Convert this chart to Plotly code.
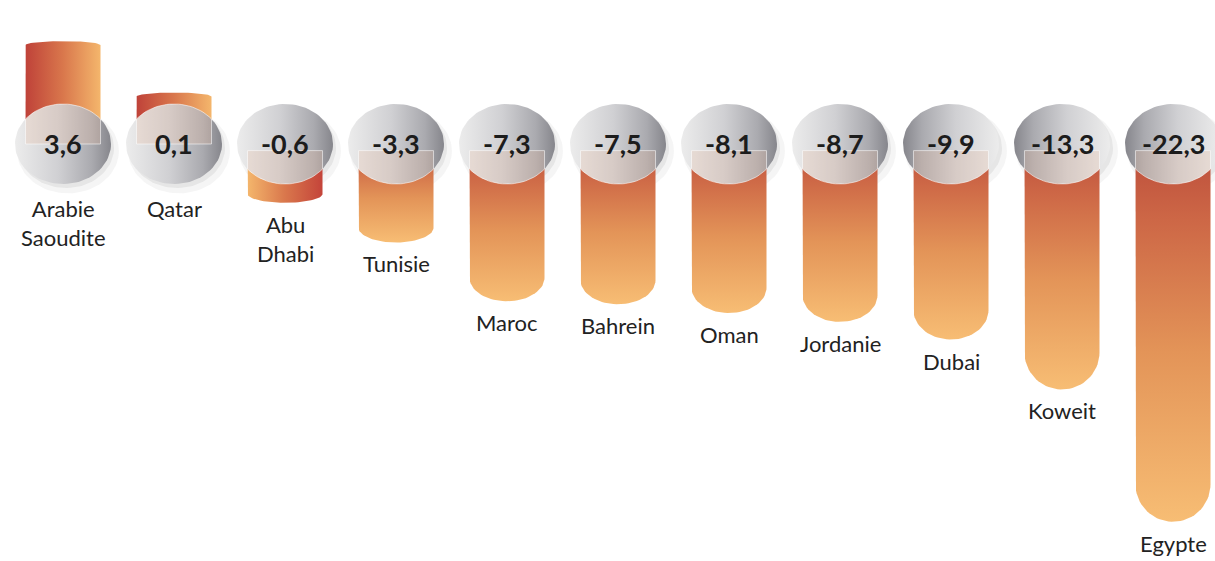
import numpy as np
import plotly.graph_objects as go

# ---------------- data ----------------
countries = ["Arabie<br>Saoudite", "Qatar", "Abu<br>Dhabi", "Tunisie", "Maroc", "Bahrein",
             "Oman", "Jordanie", "Dubai", "Koweit", "Egypte"]
values = [3.6, 0.1, -0.6, -3.3, -7.3, -7.5, -8.1, -8.7, -9.9, -13.3, -22.3]
value_labels = ["3,6", "0,1", "-0,6", "-3,3", "-7,3", "-7,5", "-8,1", "-8,7", "-9,9", "-13,3", "-22,3"]

# ---------------- layout geometry ----------------
W, H = 1215, 561
PX_X = 111.0      # pixels per category
X0 = 63.0         # pixel of first category centre
PX_Y = 14.7       # pixels per value unit
Y0 = 144.0        # pixel of the baseline (sphere centres)
xr = [-X0 / PX_X, (W - X0) / PX_X]
yr = [-(H - Y0) / PX_Y, Y0 / PX_Y]

OFFSET = 3.4                 # bars start at the sphere edge (value units)
HW = 37.5 / PX_X             # bar half width (x units)
RX, RY = 48.0 / PX_X, 40.0 / PX_Y   # sphere radii

vert_scale = [[0, "#f7bd74"], [0.45, "#e39458"], [0.8, "#cd6746"], [1, "#bb4c3b"]]
h_dark_left = [[0, "#bf4239"], [0.5, "#d9774c"], [1, "#f4b66c"]]
h_light_left = [[0, "#f4b66c"], [0.5, "#d9774c"], [1, "#c4443a"]]
sphere_left = [[0, "#ececec"], [0.45, "#d0d0d3"], [0.8, "#aaaaaf"], [1, "#86868c"]]
sphere_right = [[0, "#86868c"], [0.2, "#aaaaaf"], [0.55, "#d0d0d3"], [1, "#ececec"]]
sphere_light_side = ["left"] * 8 + ["right"] * 3

fig = go.Figure()


def add_poly(xs, ys, **kw):
    fig.add_trace(go.Scatter(x=xs, y=ys, mode="lines", fill="toself", hoverinfo="skip",
                             showlegend=False, **kw))


t_ell = np.linspace(0, 2 * np.pi, 90)

# shadows under spheres
for i, v in enumerate(values):
    for dx, dy, s, a in [(5, 7, 1.06, 0.05), (3, 4, 1.0, 0.08)]:
        xs = i + dx / PX_X + RX * s * np.cos(t_ell)
        ys = -dy / PX_Y + RY * s * np.sin(t_ell)
        add_poly(xs, ys, line=dict(width=0), fillcolor=f"rgba(60,60,60,{a})")

# cylinders
for i, v in enumerate(values):
    L = OFFSET + abs(v)
    if v >= 0:
        end = L
        cap = 4.0 / PX_Y
        t = np.linspace(np.pi, 0, 30)
        arc_x = i + HW * np.cos(t)
        arc_y = end - cap + cap * np.sin(t)
        grad = dict(type="horizontal", colorscale=h_dark_left)
    else:
        end = -L
        cap = min(HW * PX_X, 0.15 * L * PX_Y) / PX_Y
        t = np.linspace(np.pi, 2 * np.pi, 40)
        arc_x = i + HW * np.cos(t)
        arc_y = end + cap + cap * np.sin(t)
        if v > -1:
            grad = dict(type="horizontal", colorscale=h_light_left)
        else:
            grad = dict(type="vertical", colorscale=vert_scale)
    xs = np.concatenate([[i - HW], arc_x, [i + HW, i - HW]])
    ys = np.concatenate([[0], arc_y, [0, 0]])
    add_poly(xs, ys, line=dict(width=0), fillgradient=grad)

# spheres
for i, v in enumerate(values):
    xs = i + RX * np.cos(t_ell)
    ys = RY * np.sin(t_ell)
    cs = sphere_left if sphere_light_side[i] == "left" else sphere_right
    add_poly(xs, ys, line=dict(width=0), fillgradient=dict(type="horizontal", colorscale=cs))

# translucent part of the bar seen through the sphere
phi0 = np.arccos(HW / RX)
for i, v in enumerate(values):
    y_in = 0.0 if v >= 0 else -0.45
    if v >= 0:
        t = np.linspace(np.pi - phi0, phi0, 30)
    else:
        t = np.linspace(np.pi + phi0, 2 * np.pi - phi0, 30)
    arc_x = i + RX * np.cos(t)
    arc_y = RY * np.sin(t)
    xs = np.concatenate([[i - HW], arc_x, [i + HW, i - HW]])
    ys = np.concatenate([[y_in], arc_y, [y_in, y_in]])
    add_poly(xs, ys, line=dict(width=1, color="rgba(255,255,255,0.55)"),
             fillcolor="rgba(235,190,165,0.28)")

# value labels inside the spheres
for i, (v, lab) in enumerate(zip(values, value_labels)):
    fig.add_annotation(x=i, y=0, text=f"<b>{lab}</b>", showarrow=False,
                       font=dict(family="Lato", size=27, color="#1c1c1c"),
                       xanchor="center", yanchor="middle", yshift=1)

# country labels
for i, (v, name) in enumerate(zip(values, countries)):
    if v >= 0:
        y = -RY
        ys = -9
    else:
        y = -(OFFSET + abs(v))
        ys = -6
    fig.add_annotation(x=i, y=y, text=name, showarrow=False, yshift=ys,
                       font=dict(family="Lato", size=22, color="#222222"),
                       xanchor="center", yanchor="top", align="center")

fig.update_layout(
    width=W, height=H,
    margin=dict(l=0, r=0, t=0, b=0),
    paper_bgcolor="white", plot_bgcolor="white",
    xaxis=dict(range=xr, visible=False, fixedrange=True),
    yaxis=dict(range=yr, visible=False, fixedrange=True),
    showlegend=False,
)

fig.write_html("out.html", config={"displayModeBar": False},
               post_script="document.body.style.margin='0';document.body.style.overflow='hidden';")
